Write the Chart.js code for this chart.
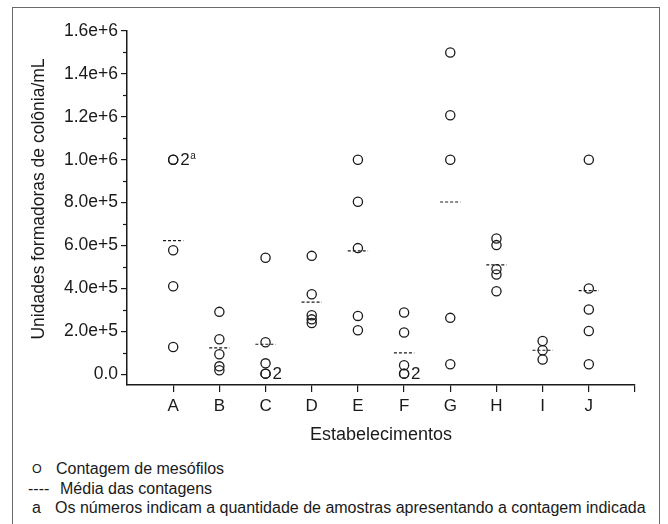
<!DOCTYPE html>
<html lang="pt">
<head>
<meta charset="utf-8">
<script src="https://cdn.jsdelivr.net/npm/chart.js@4.4.1/dist/chart.umd.min.js"></script>
<style>
  html, body { margin: 0; padding: 0; background: #fff; }
  #quadro { position: relative; width: 668px; height: 524px; overflow: hidden; font-family: "Liberation Sans", Arial, sans-serif; color: #1a1a1a; }
  #moldura { position: absolute; left: 12px; top: 7px; width: 648px; height: 530px; border: 1.5px solid #6a6a6a; box-sizing: border-box; }
  #grafico { position: absolute; left: 0; top: 0; }
  .leg { position: absolute; font-size: 16px; line-height: 18px; white-space: nowrap; }
  .sim { position: absolute; font-size: 16px; line-height: 18px; }
</style>
</head>
<body>
<div id="quadro">
  <div id="moldura"></div>
  <canvas id="grafico" width="668" height="452"></canvas>
  <span class="sim" style="left:32px;top:460px;font-size:12.5px;">O</span>
  <span class="leg" style="left:56px;top:460px;">Contagem de mesófilos</span>
  <span class="sim" style="left:28px;top:480px;">----</span>
  <span class="leg" style="left:60px;top:480px;">Média das contagens</span>
  <span class="sim" style="left:32px;top:499px;">a</span>
  <span class="leg" style="left:55px;top:499px;">Os números indicam a quantidade de amostras apresentando a contagem indicada</span>
</div>
<script>
// Categorias (estabelecimentos)
const estabelecimentos = ['A', 'B', 'C', 'D', 'E', 'F', 'G', 'H', 'I', 'J'];

// Contagens de mesófilos por estabelecimento (UFC/mL)
const contagemA = [1000000, 1000000, 578000, 410000, 127000];
const contagemB = [291000, 163000, 93000, 37000, 19000];
const contagemC = [543000, 149000, 51000, 3000, 3000];
const contagemD = [552000, 373000, 275000, 256000, 239000];
const contagemE = [1000000, 804000, 588000, 272000, 205000];
const contagemF = [288000, 195000, 42000, 3000, 3000];
const contagemG = [1500000, 1207000, 1000000, 263000, 47000];
const contagemH = [633000, 602000, 490000, 465000, 387000];
const contagemI = [155000, 112000, 69000];
const contagemJ = [1000000, 400000, 302000, 202000, 47000];

// Média das contagens
const mediaContagens = [623000, 123000, 140000, 336000, 575000, 100000, 803000, 510000, 112000, 390000];

// Rótulos de quantidade de amostras
const rotuloCategoria = ['A', 'C', 'F'];
const rotuloValor = [1000000, 3000, 3000];
const rotuloTexto = ['2', '2', '2'];
const rotuloSobrescrito = ['a', '', ''];

// Eixo Y
const yTicksValores = [0, 200000, 400000, 600000, 800000, 1000000, 1200000, 1400000, 1600000];
const yTicksRotulos = ['0.0', '2.0e+5', '4.0e+5', '6.0e+5', '8.0e+5', '1.0e+6', '1.2e+6', '1.4e+6', '1.6e+6'];
const yTicksMenores = [100000, 300000, 500000, 700000, 900000, 1100000, 1300000, 1500000];
const tituloY = 'Unidades formadoras de colônia/mL';

const FONTE = '"Liberation Sans", Arial, sans-serif';
const COR = '#1a1a1a';

const contagens = [contagemA, contagemB, contagemC, contagemD, contagemE, contagemF, contagemG, contagemH, contagemI, contagemJ];

// Pontos do gráfico de dispersão
const pontos = [];
contagens.forEach((lista, i) => {
    lista.forEach(v => pontos.push({ x: i, y: v }));
});

// Segmentos tracejados da média (com lacunas entre categorias)
const meiaLargura = 0.22;
const segmentosMedia = [];
mediaContagens.forEach((m, i) => {
    segmentosMedia.push({ x: i - meiaLargura, y: m });
    segmentosMedia.push({ x: i + meiaLargura, y: m });
    segmentosMedia.push({ x: i + 0.5, y: null });
});

// Plugin: título do eixo Y, ticks menores e rótulos de quantidade
const extras = {
    id: 'extras',
    afterDraw(chart) {
        const ctx = chart.ctx;
        const x = chart.scales.x;
        const y = chart.scales.y;
        ctx.save();
        ctx.strokeStyle = COR;
        ctx.lineWidth = 1.2;
        yTicksMenores.forEach(v => {
            const py = Math.round(y.getPixelForValue(v)) + 0.5;
            ctx.beginPath();
            ctx.moveTo(x.left, py);
            ctx.lineTo(x.left - 4, py);
            ctx.stroke();
        });
        ctx.fillStyle = COR;
        ctx.textBaseline = 'middle';
        rotuloCategoria.forEach((c, k) => {
            const px = x.getPixelForValue(estabelecimentos.indexOf(c)) + 7;
            const py = y.getPixelForValue(rotuloValor[k]) + 1;
            ctx.font = '17px ' + FONTE;
            ctx.fillText(rotuloTexto[k], px, py);
            if (rotuloSobrescrito[k]) {
                const w = ctx.measureText(rotuloTexto[k]).width;
                ctx.font = '10px ' + FONTE;
                ctx.fillText(rotuloSobrescrito[k], px + w + 0.5, py - 4);
            }
        });
        // título do eixo Y
        ctx.save();
        ctx.translate(39, 199);
        ctx.rotate(-Math.PI / 2);
        ctx.textAlign = 'center';
        ctx.textBaseline = 'middle';
        ctx.font = '17.5px ' + FONTE;
        ctx.fillText(tituloY, 0, 0);
        ctx.restore();
        ctx.restore();
    }
};

const ctx = document.getElementById('grafico');

new Chart(ctx, {
    type: 'scatter',
    data: {
        datasets: [{
            label: 'Contagem de mesófilos',
            data: pontos,
            pointStyle: 'circle',
            pointRadius: 4.6,
            pointHoverRadius: 4.6,
            borderColor: COR,
            borderWidth: 1.3,
            backgroundColor: 'rgba(0,0,0,0)'
        }, {
            label: 'Média das contagens',
            type: 'line',
            data: segmentosMedia,
            borderColor: COR,
            borderWidth: 1.2,
            borderDash: [3, 2],
            pointRadius: 0,
            spanGaps: false,
            fill: false
        }]
    },
    options: {
        responsive: false,
        animation: false,
        events: [],
        layout: {
            autoPadding: false,
            padding: { left: 0, top: 31, right: 33, bottom: 0 }
        },
        plugins: {
            legend: { display: false },
            tooltip: { enabled: false }
        },
        scales: {
            x: {
                type: 'linear',
                min: -1,
                max: 10,
                afterBuildTicks: scale => {
                    scale.ticks = [0, 1, 2, 3, 4, 5, 6, 7, 8, 9, 10].map(v => ({ value: v }));
                },
                afterFit: scale => { scale.height = 67; },
                ticks: {
                    autoSkip: false,
                    maxRotation: 0,
                    padding: 4,
                    color: COR,
                    font: { family: FONTE, size: 17 },
                    callback: v => estabelecimentos[v] || ''
                },
                grid: { drawOnChartArea: false, drawTicks: true, tickLength: 7, color: COR, lineWidth: 1.2 },
                border: { display: true, color: COR, width: 1.5 },
                title: {
                    display: true,
                    text: 'Estabelecimentos',
                    color: COR,
                    font: { family: FONTE, size: 18 },
                    padding: { top: 0, bottom: 6 }
                }
            },
            y: {
                min: -50000,
                max: 1600000,
                afterBuildTicks: scale => {
                    scale.ticks = yTicksValores.map(v => ({ value: v }));
                },
                afterFit: scale => { scale.width = 127; },
                ticks: {
                    padding: 3,
                    color: COR,
                    font: { family: FONTE, size: 17.5 },
                    callback: v => yTicksRotulos[yTicksValores.indexOf(v)]
                },
                grid: { drawOnChartArea: false, drawTicks: true, tickLength: 6, color: COR, lineWidth: 1.2 },
                border: { display: true, color: COR, width: 1.5 }
            }
        }
    },
    plugins: [extras]
});
</script>
</body>
</html>
